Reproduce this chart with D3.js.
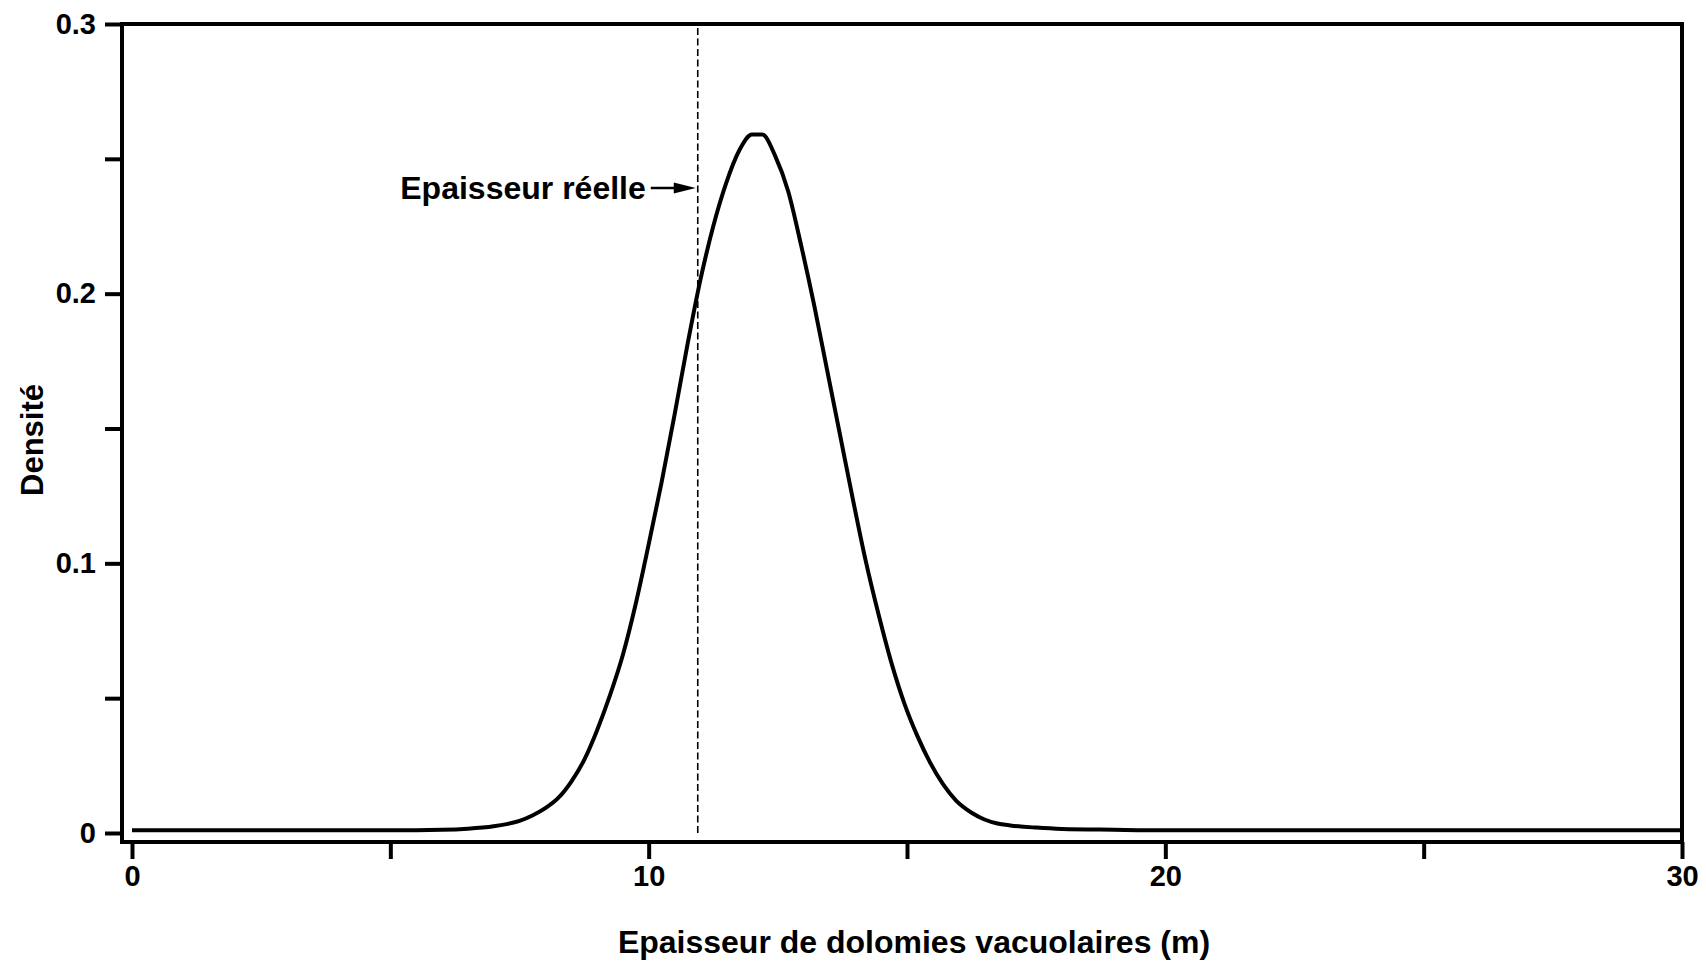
<!DOCTYPE html>
<html>
<head>
<meta charset="utf-8">
<script src="https://cdn.jsdelivr.net/npm/d3@7"></script>
<style>
  html, body { margin: 0; padding: 0; background: #fff; }
  svg { display: block; }
  text { font-family: "Liberation Sans", Arial, Helvetica, sans-serif; font-weight: bold; fill: #000; }
</style>
</head>
<body>
<svg id="chart" width="1706" height="963"></svg>
<script>
// Thickness of vacuolar dolomites (m) and estimated probability density
const thickness = [0, 2, 4, 5, 6, 6.5, 7, 7.25, 7.5, 7.75, 8, 8.25, 8.5, 8.75, 9, 9.25, 9.5, 9.75, 10, 10.25, 10.5, 10.75,
  11, 11.25, 11.5, 11.75, 12, 12.2, 12.45, 12.7, 12.95, 13.2, 13.45, 13.7, 13.95, 14.2, 14.45, 14.7,
  14.95, 15.2, 15.45, 15.7, 15.95, 16.25, 16.5, 16.75, 17, 17.5, 18, 19, 20, 22, 25, 28, 30];
const density = [0.001, 0.001, 0.001, 0.001, 0.0012, 0.0016, 0.0025, 0.0033, 0.0045, 0.0065, 0.0092, 0.013, 0.019, 0.027, 0.038, 0.051, 0.066, 0.085, 0.107, 0.130, 0.155, 0.181,
  0.205, 0.225, 0.241, 0.253, 0.259, 0.259, 0.251, 0.238, 0.218, 0.196, 0.172, 0.148, 0.124, 0.101, 0.081, 0.063,
  0.048, 0.036, 0.026, 0.018, 0.012, 0.0075, 0.005, 0.0035, 0.0028, 0.002, 0.0015, 0.0012, 0.001, 0.001, 0.001, 0.001, 0.001];

// True thickness marker
const trueThickness = 10.95;
const trueLabel = "Epaisseur réelle";

// Axes
const xDomain = [0, 30];
const yDomain = [0, 0.3];
const xTicksMajor = [0, 5, 10, 15, 20, 25, 30];
const xTickLabels = [0, 10, 20, 30];
const yTicksMajor = [0, 0.05, 0.1, 0.15, 0.2, 0.25, 0.3];
const yTickLabels = [0, 0.1, 0.2, 0.3];
const xTitle = "Epaisseur de dolomies vacuolaires (m)";
const yTitle = "Densité";

const svg = d3.select("#chart");
const x = d3.scaleLinear().domain(xDomain).range([132, 1682]);
const y = d3.scaleLinear().domain(yDomain).range([833, 24]);

const ink = "#000";
const frameLeft = 122, frameBottom = 842;

// Frame
const frame = svg.append("g").attr("stroke", ink).attr("stroke-width", 4).attr("fill", "none");
frame.append("line").attr("x1", frameLeft).attr("x2", frameLeft).attr("y1", y(0.3) - 2).attr("y2", frameBottom + 2);
frame.append("line").attr("x1", frameLeft - 2).attr("x2", x(30) + 2).attr("y1", frameBottom).attr("y2", frameBottom);
frame.append("line").attr("x1", frameLeft).attr("x2", x(30) + 2).attr("y1", y(0.3)).attr("y2", y(0.3));
frame.append("line").attr("x1", x(30)).attr("x2", x(30)).attr("y1", y(0.3) - 2).attr("y2", frameBottom);

// Y axis ticks and labels
const yAxis = d3.axisLeft(y)
  .tickValues(yTicksMajor)
  .tickSize(17)
  .tickPadding(9)
  .tickFormat(d => yTickLabels.some(v => Math.abs(v - d) < 1e-9) ? d3.format("~g")(d) : "");
const gy = svg.append("g").attr("transform", `translate(${frameLeft},0)`).call(yAxis);
gy.select(".domain").remove();
gy.selectAll(".tick line").attr("stroke", ink).attr("stroke-width", 4);
gy.selectAll(".tick text").attr("font-size", 29).style("font-family", '"Liberation Sans", Arial, sans-serif').style("font-weight", "bold");

// X axis ticks and labels
const xAxis = d3.axisBottom(x)
  .tickValues(xTicksMajor)
  .tickSize(17)
  .tickPadding(6)
  .tickFormat(d => xTickLabels.includes(d) ? d3.format("d")(d) : "");
const gx = svg.append("g").attr("transform", `translate(0,${frameBottom})`).call(xAxis);
gx.select(".domain").remove();
gx.selectAll(".tick line").attr("stroke", ink).attr("stroke-width", 4);
gx.selectAll(".tick text").attr("font-size", 29).style("font-family", '"Liberation Sans", Arial, sans-serif').style("font-weight", "bold");

// Dashed line for the true thickness
svg.append("line")
  .attr("x1", x(trueThickness)).attr("x2", x(trueThickness))
  .attr("y1", y(0.3) + 4).attr("y2", y(0) + 2)
  .attr("stroke", ink).attr("stroke-width", 1.6)
  .attr("stroke-dasharray", "7,3.5");

// Density curve
const pts = thickness.map((t, i) => [t, density[i]]);
const line = d3.line().x(d => x(d[0])).y(d => y(d[1])).curve(d3.curveMonotoneX);
svg.append("path")
  .attr("d", line(pts))
  .attr("fill", "none")
  .attr("stroke", ink)
  .attr("stroke-width", 4)
  .attr("stroke-linejoin", "round");

// Annotation with arrow
const annY = 188;
const tipX = x(trueThickness) - 2;
svg.append("text")
  .attr("x", tipX - 50).attr("y", annY + 11)
  .attr("text-anchor", "end")
  .attr("font-size", 32)
  .text(trueLabel);
svg.append("line")
  .attr("x1", tipX - 45).attr("x2", tipX - 18)
  .attr("y1", annY).attr("y2", annY)
  .attr("stroke", ink).attr("stroke-width", 2.5);
svg.append("path")
  .attr("d", `M${tipX},${annY} L${tipX - 22},${annY - 5.5} L${tipX - 22},${annY + 5.5} Z`)
  .attr("fill", ink);

// Axis titles
svg.append("text")
  .attr("x", 914).attr("y", 953)
  .attr("text-anchor", "middle")
  .attr("font-size", 32)
  .text(xTitle);
svg.append("text")
  .attr("transform", "translate(43,440) rotate(-90)")
  .attr("text-anchor", "middle")
  .attr("font-size", 31)
  .text(yTitle);
</script>
</body>
</html>
